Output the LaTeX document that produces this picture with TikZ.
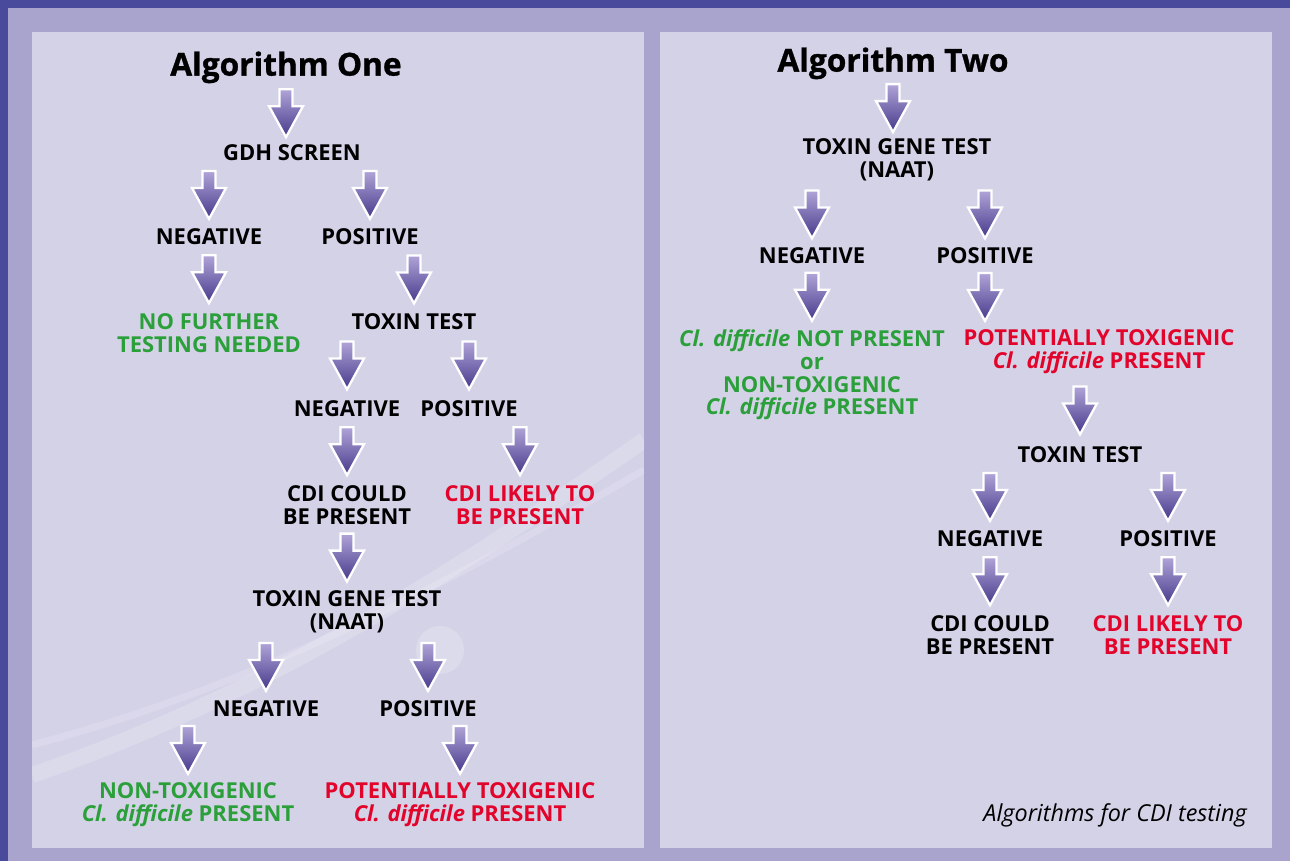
\documentclass[tikz,border=0pt]{standalone}
\usepackage{fontspec}
\setmainfont{Open Sans}
\usetikzlibrary{calc}
\definecolor{okgreen}{RGB}{43,160,58}
\definecolor{alertred}{RGB}{226,4,42}
\definecolor{framelilac}{RGB}{168,164,206}
\definecolor{panellilac}{RGB}{212,210,231}
\definecolor{edgeblue}{RGB}{74,74,156}
\definecolor{arrtop}{RGB}{176,164,216}
\definecolor{arrbot}{RGB}{70,56,138}

\begin{document}
\begin{tikzpicture}[x=0.02cm,y=-0.02cm,line join=round,
  lbl/.style={font=\fontsize{12.5}{13}\selectfont\bfseries,align=center,inner sep=1pt,yshift=-1.1pt},
  ttl/.style={font=\fontsize{18}{20}\selectfont\bfseries\addfontfeature{FakeBold=1},inner sep=0pt,yshift=-2.5pt},
  ok/.style={lbl,text=okgreen},
  bad/.style={lbl,text=alertred},
  darr/.pic={\draw[draw=white,line width=1.3pt,line join=miter,
    top color=arrtop,bottom color=arrbot]
    (-6.5,-24)--(6.5,-24)--(6.5,-7)--(17,-7)--(0,24)--(-17,-7)--(-6.5,-7)--cycle;}]
  \useasboundingbox (0,0) rectangle (1290,861);
  % frame and panels
  \fill[framelilac] (0,0) rectangle (1290,861);
  \fill[edgeblue] (0,0) rectangle (1290,8);
  \fill[edgeblue] (0,0) rectangle (8,861);
  \fill[panellilac] (32,32) rectangle (644,848);
  \fill[panellilac] (660,32) rectangle (1272,848);
  \begin{scope}
    \clip (32,32) rectangle (644,848);
    \draw[white,opacity=.18,line width=9pt] (32,775) .. controls (250,700) and (430,590) .. (644,440);
    \draw[white,opacity=.15,line width=4pt] (32,745) .. controls (240,690) and (420,600) .. (644,470);
    \fill[white,opacity=.2] (440,650) circle (24);
  \end{scope}

  % algorithm one
  \node[ttl] (t1) at (286,63) {Algorithm One};
  \node[lbl] (a1) at (292,151) {GDH SCREEN};
  \node[lbl] (a2) at (209,235) {NEGATIVE};
  \node[lbl] (a3) at (370,235) {POSITIVE};
  \node[ok] (a4) at (209,331) {NO FURTHER\\TESTING NEEDED};
  \node[lbl] (a5) at (414,320) {TOXIN TEST};
  \node[lbl] (a6) at (347,407) {NEGATIVE};
  \node[lbl] (a7) at (469,407) {POSITIVE};
  \node[lbl] (a8) at (347,503) {CDI COULD\\BE PRESENT};
  \node[bad] (a9) at (520,503) {CDI LIKELY TO\\BE PRESENT};
  \node[lbl] (a10) at (347,610) {TOXIN GENE TEST\\(NAAT)};
  \node[lbl] (a11) at (266,707) {NEGATIVE};
  \node[lbl] (a12) at (428,707) {POSITIVE};
  \node[ok] (a13) at (188,803) {NON-TOXIGENIC\\\textit{Cl. difficile} PRESENT};
  \node[bad] (a14) at (460,803) {POTENTIALLY TOXIGENIC\\\textit{Cl. difficile} PRESENT};

  % algorithm two
  \node[ttl] (t2) at (893,59) {Algorithm Two};
  \node[lbl] (b1) at (897,158) {TOXIN GENE TEST\\(NAAT)};
  \node[lbl] (b2) at (812,254) {NEGATIVE};
  \node[lbl] (b3) at (985,254) {POSITIVE};
  \node[ok] (b4) at (812,373) {\textit{Cl. difficile} NOT PRESENT\\or\\NON-TOXIGENIC\\\textit{Cl. difficile} PRESENT};
  \node[bad] (b5) at (1099,350) {POTENTIALLY TOXIGENIC\\\textit{Cl. difficile} PRESENT};
  \node[lbl] (b6) at (1080,453) {TOXIN TEST};
  \node[lbl] (b7) at (990,537) {NEGATIVE};
  \node[lbl] (b8) at (1168,537) {POSITIVE};
  \node[lbl] (b9) at (990,633) {CDI COULD\\BE PRESENT};
  \node[bad] (b10) at (1168,633) {CDI LIKELY TO\\BE PRESENT};
  \node[anchor=east,inner sep=0pt,font=\fontsize{13.3}{15}\selectfont\itshape] (cap) at (1247,815) {Algorithms for CDI testing};

  % block arrows: parent/child/column
  \foreach \pa/\ch/\xx in {t1/a1/t1,a1/a2/a2,a1/a3/a3,a2/a4/a2,a3/a5/a5,a5/a6/a6,a5/a7/a7,
      a6/a8/a8,a7/a9/a9,a8/a10/a10,a10/a11/a11,a10/a12/a12,a11/a13/a13,a12/a14/a14,
      t2/b1/t2,b1/b2/b2,b1/b3/b3,b2/b4/b2,b3/b5/b3,b5/b6/b6,b6/b7/b7,b6/b8/b8,b7/b9/b9,b8/b10/b10}
    \pic at ($(\pa.south -| \xx)!.5!(\ch.north -| \xx)$) {darr};
\end{tikzpicture}
\end{document}
